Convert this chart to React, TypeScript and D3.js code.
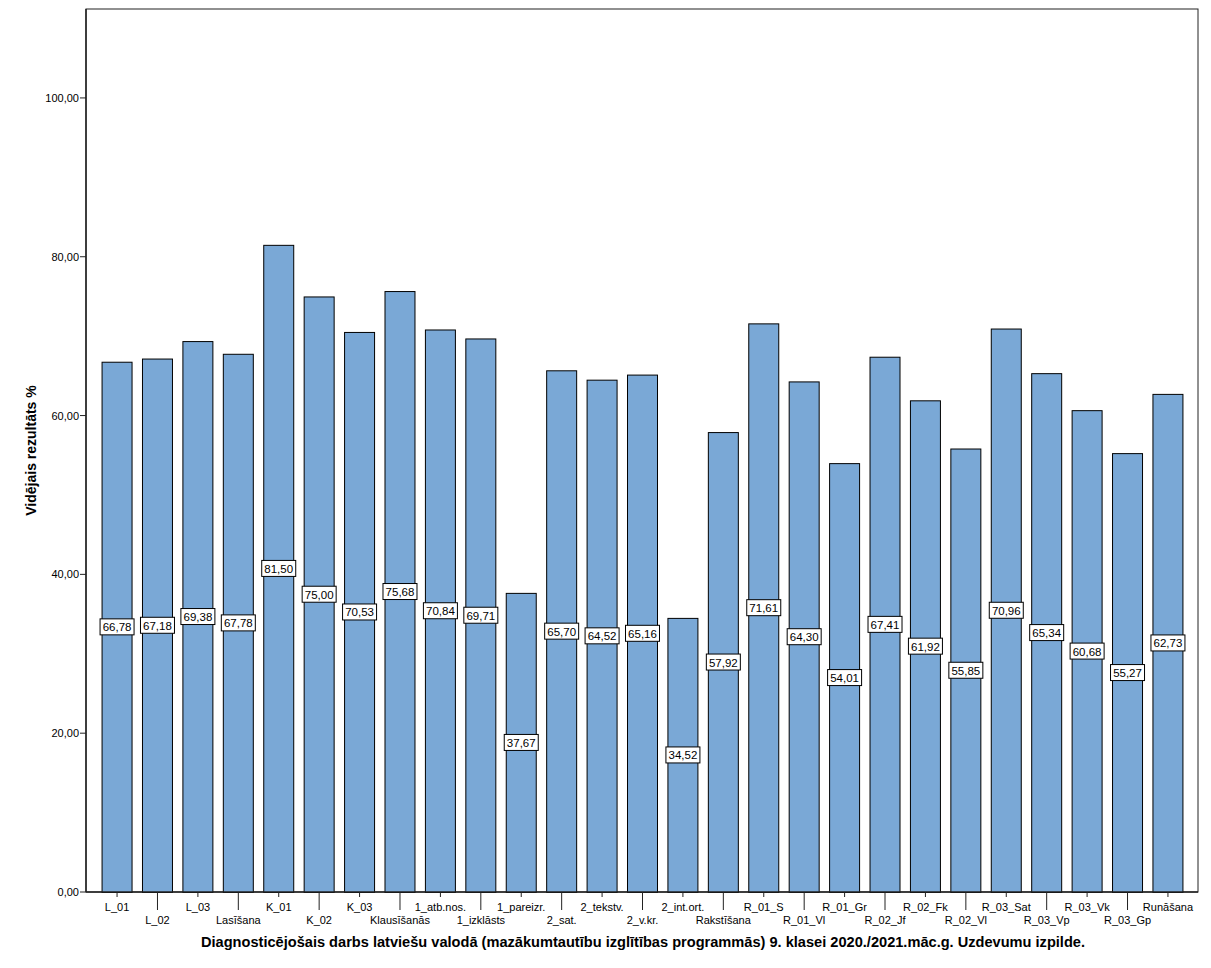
import * as d3 from 'd3';

const CATEGORIES = [
  'L_01', 'L_02', 'L_03', 'Lasīšana', 'K_01', 'K_02', 'K_03', 'Klausīšanās',
  '1_atb.nos.', '1_izklāsts', '1_pareizr.', '2_sat.', '2_tekstv.', '2_v.kr.',
  '2_int.ort.', 'Rakstīšana', 'R_01_S', 'R_01_Vl', 'R_01_Gr', 'R_02_Jf',
  'R_02_Fk', 'R_02_Vl', 'R_03_Sat', 'R_03_Vp', 'R_03_Vk', 'R_03_Gp', 'Runāšana',
];

const VALUES = [
  66.78, 67.18, 69.38, 67.78, 81.5, 75.0, 70.53, 75.68,
  70.84, 69.71, 37.67, 65.7, 64.52, 65.16,
  34.52, 57.92, 71.61, 64.3, 54.01, 67.41,
  61.92, 55.85, 70.96, 65.34, 60.68, 55.27, 62.73,
];

const Y_TICKS = [0, 20, 40, 60, 80, 100];

const fmt = (v: number) => v.toFixed(2).replace('.', ',');

export default function App() {
  const W = 1211;
  const H = 968;
  const plot = { left: 86, right: 1198, top: 9, bottom: 892 };
  const font = '"Liberation Sans", Arial, sans-serif';

  const x = d3.scaleBand<string>()
    .domain(CATEGORIES)
    .range([plot.left, plot.right])
    .paddingInner(0.258)
    .paddingOuter(0.385);

  const y = d3.scaleLinear()
    .domain([0, 111.2])
    .range([plot.bottom, plot.top]);

  const data = CATEGORIES.map((c, i) => ({ cat: c, value: VALUES[i] }));

  return (
    <svg width={W} height={H} style={{ position: 'absolute', left: 0, top: 0, background: '#fff' }}>
      {/* frame */}
      <rect
        x={plot.left} y={plot.top}
        width={plot.right - plot.left} height={plot.bottom - plot.top}
        fill="none" stroke="#222" strokeWidth={1}
      />

      {/* bars */}
      {data.map(d => (
        <rect
          key={d.cat}
          x={x(d.cat)! + 0.5} y={y(d.value) + 0.5}
          width={x.bandwidth()} height={plot.bottom - y(d.value)}
          fill="#7aa8d6" stroke="#000" strokeWidth={1}
        />
      ))}

      {/* value labels */}
      {data.map(d => {
        const cx = x(d.cat)! + x.bandwidth() / 2 + 0.5;
        const cy = y(d.value / 2);
        const bw = 34;
        const bh = 16;
        return (
          <g key={`lbl-${d.cat}`}>
            <rect x={cx - bw / 2} y={cy - bh / 2} width={bw} height={bh}
              fill="#fff" stroke="#000" strokeWidth={1} />
            <text x={cx} y={cy + 0.5} textAnchor="middle" dominantBaseline="central"
              fontSize={11.5} fontFamily={font} fill="#000">
              {fmt(d.value)}
            </text>
          </g>
        );
      })}

      {/* y axis ticks */}
      <line x1={plot.left} x2={plot.left} y1={plot.top} y2={plot.bottom} stroke="#222" strokeWidth={1.5} />
      {Y_TICKS.map(t => (
        <g key={t}>
          <line x1={plot.left - 6} x2={plot.left} y1={y(t)} y2={y(t)} stroke="#222" strokeWidth={1} />
          <text x={plot.left - 7} y={y(t)} textAnchor="end" dominantBaseline="central"
            fontSize={11} fontFamily={font} fill="#000">
            {fmt(t)}
          </text>
        </g>
      ))}

      {/* x axis ticks and labels */}
      <line x1={plot.left} x2={plot.right} y1={plot.bottom} y2={plot.bottom} stroke="#222" strokeWidth={1.5} />
      {CATEGORIES.map((c, i) => {
        const cx = x(c)! + x.bandwidth() / 2 + 0.5;
        const low = i % 2 === 1;
        return (
          <g key={`xt-${c}`}>
            <line x1={cx} x2={cx} y1={plot.bottom} y2={plot.bottom + (low ? 18 : 5)} stroke="#222" strokeWidth={1} />
            <text x={cx} y={low ? 920 : 907} textAnchor="middle" dominantBaseline="central"
              fontSize={11} fontFamily={font} fill="#000">
              {c}
            </text>
          </g>
        );
      })}

      {/* axis titles */}
      <text x={643} y={942} textAnchor="middle" dominantBaseline="central"
        fontSize={14.6} fontWeight={700} fontFamily={font} fill="#000">
        Diagnosticējošais darbs latviešu valodā (mazākumtautību izglītības programmās) 9. klasei 2020./2021.māc.g. Uzdevumu izpilde.
      </text>
      <text transform={`translate(31, ${(plot.top + plot.bottom) / 2}) rotate(-90)`}
        textAnchor="middle" dominantBaseline="central"
        fontSize={14} fontWeight={700} fontFamily={font} fill="#000">
        Vidējais rezultāts %
      </text>
    </svg>
  );
}
